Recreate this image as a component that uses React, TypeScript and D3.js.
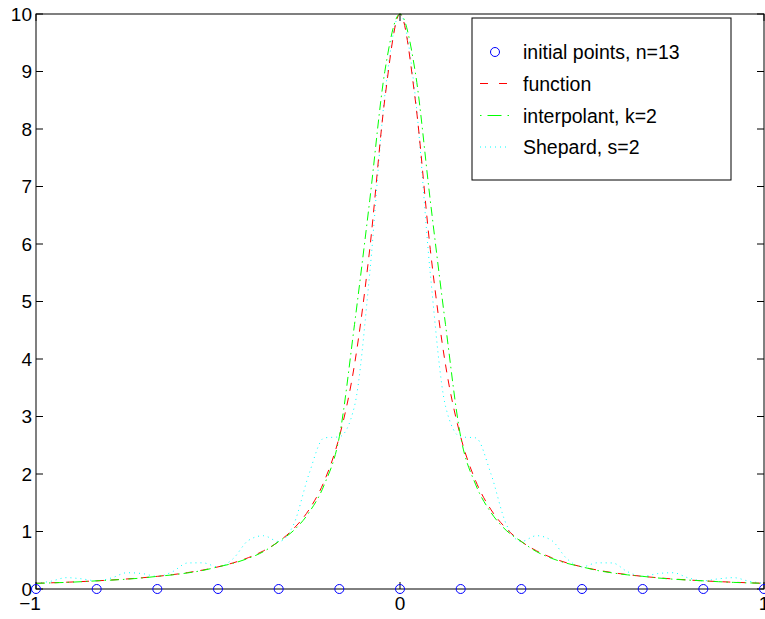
import React from 'react';
import * as d3 from 'd3';

// x grid (step 1/24) shared by the three curves
const X_VALUES = [
  -1, -0.9583, -0.9167, -0.875, -0.8333, -0.7917, -0.75, -0.7083, -0.6667, -0.625, -0.5833, -0.5417,
  -0.5, -0.4583, -0.4167, -0.375, -0.3333, -0.2917, -0.25, -0.2083, -0.1667, -0.125, -0.0833, -0.0417,
  0,
  0.0417, 0.0833, 0.125, 0.1667, 0.2083, 0.25, 0.2917, 0.3333, 0.375, 0.4167, 0.4583, 0.5,
  0.5417, 0.5833, 0.625, 0.6667, 0.7083, 0.75, 0.7917, 0.8333, 0.875, 0.9167, 0.9583, 1,
];

const FUNCTION_VALUES = [
  0.099, 0.1077, 0.1176, 0.1289, 0.142, 0.1571, 0.1747, 0.1954, 0.22, 0.2496, 0.2855, 0.3296,
  0.3846, 0.4544, 0.5446, 0.6639, 0.8257, 1.052, 1.379, 1.873, 2.647, 3.902, 5.902, 8.521,
  10,
  8.521, 5.902, 3.902, 2.647, 1.873, 1.379, 1.052, 0.8257, 0.6639, 0.5446, 0.4544, 0.3846,
  0.3296, 0.2855, 0.2496, 0.22, 0.1954, 0.1747, 0.1571, 0.142, 0.1289, 0.1176, 0.1077, 0.099,
];

const INTERPOLANT_VALUES = [
  0.099, 0.106, 0.115, 0.127, 0.142, 0.155, 0.171, 0.192, 0.22, 0.246, 0.28, 0.323,
  0.3846, 0.447, 0.533, 0.65, 0.8257, 1.02, 1.33, 1.81, 2.647, 4.6, 6.75, 9.0,
  10,
  9.0, 6.75, 4.6, 2.647, 1.81, 1.33, 1.02, 0.8257, 0.65, 0.533, 0.447, 0.3846,
  0.323, 0.28, 0.246, 0.22, 0.192, 0.171, 0.155, 0.142, 0.127, 0.115, 0.106, 0.099,
];

const SHEPARD_VALUES = [
  0.099, 0.136, 0.197, 0.177, 0.142, 0.194, 0.283, 0.268, 0.22, 0.301, 0.453, 0.455,
  0.385, 0.528, 0.844, 0.927, 0.826, 1.13, 2.0, 2.628, 2.647, 3.18, 5.48, 8.59,
  10,
  8.59, 5.48, 3.18, 2.647, 2.628, 2.0, 1.13, 0.826, 0.927, 0.844, 0.528, 0.385,
  0.455, 0.453, 0.301, 0.22, 0.268, 0.283, 0.194, 0.142, 0.177, 0.197, 0.136, 0.099,
];

const NODE_X = [-1, -0.8333, -0.6667, -0.5, -0.3333, -0.1667, 0, 0.1667, 0.3333, 0.5, 0.6667, 0.8333, 1];
const NODE_Y = [0, 0, 0, 0, 0, 0, 0, 0, 0, 0, 0, 0, 0];

const X_TICKS = [-1, 0, 1];
const X_TICK_LABELS = ['\u22121', '0', '1'];
const Y_TICKS = [0, 1, 2, 3, 4, 5, 6, 7, 8, 9, 10];

const LEGEND_LABELS = ['initial points, n=13', 'function', 'interpolant, k=2', 'Shepard, s=2'];

const FONT = '"Liberation Sans", Arial, Helvetica, sans-serif';

export default function App() {
  const W = 765;
  const H = 619;
  const left = 36;
  const right = 764;
  const top = 14;
  const bottom = 589;

  const x = d3.scaleLinear().domain([-1, 1]).range([left, right]);
  const y = d3.scaleLinear().domain([0, 10]).range([bottom, top]);

  const line = d3
    .line<[number, number]>()
    .x((d) => x(d[0]))
    .y((d) => y(d[1]))
    .curve(d3.curveMonotoneX);

  const path = (vals: number[]) => line(X_VALUES.map((xv, i) => [xv, vals[i]] as [number, number])) || '';

  const tickLen = 7;

  // legend geometry
  const lgX = 472;
  const lgY = 18;
  const lgW = 259;
  const lgH = 162;
  const rowY = [52, 83.5, 115.5, 147];
  const sampleX1 = 480;
  const sampleX2 = 510;
  const textX = 523;

  return (
    <svg
      width={W}
      height={H}
      style={{ position: 'absolute', left: 0, top: 0, background: '#fff' }}
      fontFamily={FONT}
    >
      <rect x={0} y={0} width={W} height={H} fill="#fff" />

      {/* curves */}
      <path d={path(SHEPARD_VALUES)} fill="none" stroke="#00ffff" strokeWidth={1} strokeDasharray="1,4" />
      <path d={path(FUNCTION_VALUES)} fill="none" stroke="#ff0000" strokeWidth={1} strokeDasharray="8,7" />
      <path d={path(INTERPOLANT_VALUES)} fill="none" stroke="#00ff00" strokeWidth={1} strokeDasharray="9,4,1.5,4" />

      {/* axes box */}
      <rect x={left} y={top} width={right - left} height={bottom - top} fill="none" stroke="#000" strokeWidth={1} />

      {/* y ticks */}
      {Y_TICKS.map((t) => (
        <g key={'y' + t}>
          <line x1={left} x2={left + tickLen} y1={y(t)} y2={y(t)} stroke="#000" />
          <line x1={right} x2={right - tickLen} y1={y(t)} y2={y(t)} stroke="#000" />
          <text x={left - 4} y={y(t)} textAnchor="end" dominantBaseline="central" fontSize={19} fill="#000">
            {String(t)}
          </text>
        </g>
      ))}

      {/* x ticks */}
      {X_TICKS.map((t, i) => (
        <g key={'x' + t}>
          <line x1={x(t)} x2={x(t)} y1={bottom} y2={bottom - tickLen} stroke="#000" />
          <line x1={x(t)} x2={x(t)} y1={top} y2={top + tickLen} stroke="#000" />
          <text
            x={x(t)}
            dx={t < 0 ? -6 : 0}
            y={bottom + 14}
            textAnchor="middle"
            dominantBaseline="central"
            fontSize={19}
            fill="#000"
          >
            {X_TICK_LABELS[i]}
          </text>
        </g>
      ))}

      {/* initial points */}
      {NODE_X.map((nx, i) => (
        <circle key={'n' + i} cx={x(nx)} cy={y(NODE_Y[i])} r={4.5} fill="none" stroke="#0000ff" strokeWidth={1} />
      ))}

      {/* legend */}
      <rect x={lgX} y={lgY} width={lgW} height={lgH} fill="#fff" stroke="#000" strokeWidth={1} />
      <circle cx={(sampleX1 + sampleX2) / 2} cy={rowY[0]} r={4.5} fill="none" stroke="#0000ff" />
      <line x1={sampleX1} x2={sampleX2} y1={rowY[1]} y2={rowY[1]} stroke="#ff0000" strokeDasharray="8,11" />
      <line x1={sampleX1} x2={sampleX2} y1={rowY[2]} y2={rowY[2]} stroke="#00ff00" strokeDasharray="1.5,6,14,6" />
      <line x1={sampleX1} x2={sampleX2} y1={rowY[3]} y2={rowY[3]} stroke="#00ffff" strokeDasharray="1,4" />
      {LEGEND_LABELS.map((lbl, i) => (
        <text key={lbl} x={textX} y={rowY[i]} dominantBaseline="central" fontSize={19.5} fill="#000">
          {lbl}
        </text>
      ))}
    </svg>
  );
}
